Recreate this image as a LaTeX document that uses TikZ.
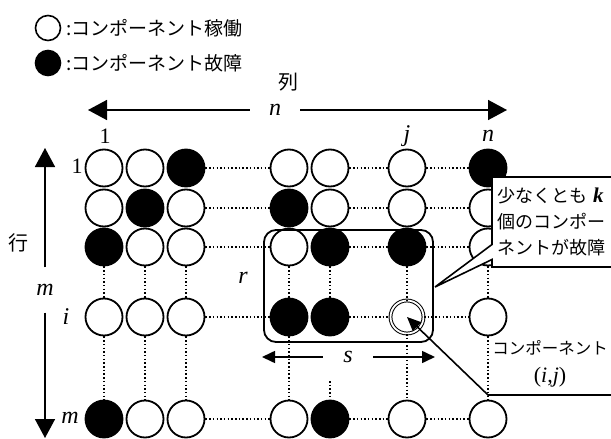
\documentclass[tikz,border=0pt]{standalone}
\usepackage{fontspec}
\setmainfont{Liberation Serif}
\newfontfamily\jp{Noto Sans CJK JP}
\newfontfamily\lat{Liberation Serif}
\usetikzlibrary{arrows.meta,shapes.callouts}

\begin{document}
\begin{tikzpicture}[x=1pt,y=-1pt,
  comp/.style={circle, draw, line width=1.8pt, minimum size=37pt, inner sep=0pt, fill=white},
  legcirc/.style={circle, draw, line width=1.6pt, minimum size=25pt, inner sep=0pt},
  link/.style={line width=1.5pt, dash pattern=on 1.5pt off 2.2pt},
  bigarrow/.style={line width=1.6pt, -{Triangle[length=19pt,width=20pt]}},
  smallarrow/.style={line width=1.6pt, -{Triangle[length=13pt,width=12pt]}},
  lab/.style={font=\lat\fontsize{24}{27}\selectfont\itshape, inner sep=0pt},
  numlab/.style={font=\lat\fontsize{22}{25}\selectfont, inner sep=0pt},
  jlab/.style={font=\jp\fontsize{19}{23}\selectfont, inner sep=0pt},
]
\useasboundingbox (0,0) rectangle (611,439);

% legend
\node[legcirc, fill=white] (legup) at (48,28) {};
\node[legcirc, fill=black] (legdown) at (48,63) {};
\node[jlab, anchor=west] (legtxtup) at (66,28) {:コンポーネント稼働};
\node[jlab, anchor=west] (legtxtdown) at (66,63) {:コンポーネント故障};

% column axis
\node[jlab, font=\jp\fontsize{20}{24}\selectfont] (colname) at (288,82) {列};
\node[lab, minimum width=50pt] (ncol) at (275,110) {n};
\coordinate (colL) at (88,110);
\coordinate (colR) at (507,110);
\draw[bigarrow] (ncol.west) -- (colL);
\draw[bigarrow] (ncol.east) -- (colR);
\node[numlab, anchor=base] (c1) at (105,143) {1};
\node[lab, anchor=base] (cj) at (407,141) {j};
\node[lab, anchor=base] (cn) at (488,141) {n};

% row axis
\node[jlab, font=\jp\fontsize{20}{24}\selectfont] (rowname) at (19,243) {行};
\node[lab, minimum height=45pt] (mrow) at (45,290) {m};
\coordinate (rowT) at (45,148);
\coordinate (rowB) at (45,438);
\draw[bigarrow] (mrow.north) -- (rowT);
\draw[bigarrow] (mrow.south) -- (rowB);
\node[numlab] (r1) at (77,166) {1};
\node[lab] (ri) at (66,317) {i};
\node[lab] (rm) at (70,418) {m};

% components: row 1
\foreach \c/\x/\f in {1/104/white,2/145/white,3/186/black,4/289/white,5/330/white,6/407/white,7/488/black}
  \node[comp, fill=\f] (g1-\c) at (\x,168) {};
% row 2
\foreach \c/\x/\f in {1/104/white,2/145/black,3/186/white,4/289/black,5/330/white,6/407/white,7/488/white}
  \node[comp, fill=\f] (g2-\c) at (\x,208) {};
% row 3
\foreach \c/\x/\f in {1/104/black,2/145/white,3/186/white,4/289/white,5/330/black,6/407/black,7/488/white}
  \node[comp, fill=\f] (g3-\c) at (\x,247) {};
% row i
\foreach \c/\x/\f in {1/104/white,2/145/white,3/186/white,4/289/black,5/330/black,7/488/white}
  \node[comp, fill=\f] (gi-\c) at (\x,317) {};
\node[circle, draw, double, double distance=1.8pt, line width=1pt, minimum size=33pt, inner sep=0pt] (gi-6) at (407,317) {};
% row m
\foreach \c/\x/\f in {1/104/black,2/145/white,3/186/white,4/289/white,5/330/black,6/407/white,7/488/white}
  \node[comp, fill=\f] (gm-\c) at (\x,419) {};

% dotted links along the rows
\foreach \r in {1,2,3,i,m} {
  \draw[link] (g\r-3) -- (g\r-4);
  \draw[link] (g\r-5) -- (g\r-6);
  \draw[link] (g\r-6) -- (g\r-7);
}
% dotted links down the columns
\foreach \c in {1,...,7}
  \draw[link] (g3-\c) -- (gi-\c);
\foreach \c in {1,2,3,4,6,7}
  \draw[link] (gi-\c) -- (gm-\c);
\coordinate (c5stub) at (330,381);
\draw[link] (c5stub) -- (gm-5);

% r x s block
\node[draw, line width=1.8pt, rounded corners=12pt, minimum width=169pt, minimum height=112pt, inner sep=0pt] (blk) at (348.5,286) {};
\node[lab] (rlab) at (243,278) {r};
\node[lab, minimum width=50pt] (slab) at (348,357) {s};
\coordinate (sL) at (262,357);
\coordinate (sR) at (435,357);
\draw[smallarrow] (slab.west) -- (sL);
\draw[smallarrow] (slab.east) -- (sR);

% callout
\node[rectangle callout, draw, fill=white, line width=1.6pt,
      callout absolute pointer={(435,287)}, callout pointer width=15pt,
      text width=112pt, minimum height=90pt, inner sep=5pt, align=left,
      font=\jp\fontsize{18}{26}\selectfont] (note) at (553,222)
  {少なくとも {\lat\bfseries\itshape\fontsize{21}{26}\selectfont k}\\個のコンポー\\ネントが故障};

% component (i,j) label
\node[align=center, inner sep=0pt, font=\jp\fontsize{16.5}{28}\selectfont] (ijlab) at (550,364)
  {コンポーネント\\{\lat\fontsize{22}{28}\selectfont(\textit{i},\textit{j})}};
\coordinate (elbow) at (488,395);
\coordinate (edge) at (612,395);
\draw[line width=1.6pt, -{Triangle[length=14pt,width=12pt]}] (edge) -- (elbow) -- (gi-6.center);
\end{tikzpicture}
\end{document}
